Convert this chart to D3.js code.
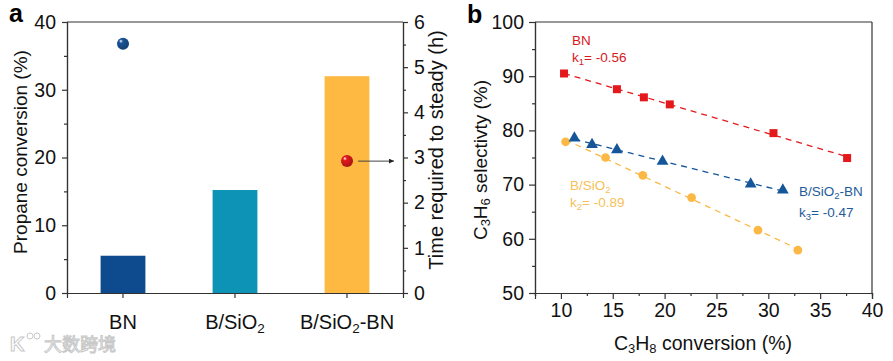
<!doctype html>
<html>
<head>
<meta charset="utf-8">
<title>Propane conversion and C3H6 selectivity</title>
<script src="https://d3js.org/d3.v7.min.js"></script>
<style>
  body { margin: 0; background: #fff; }
  svg { font-family: "Liberation Sans", Arial, sans-serif; }
</style>
</head>
<body>
<svg width="893" height="361"></svg>
<script>
// ---- panel a data ----
var catalysts = ["BN", "B/SiO2", "B/SiO2-BN"];
var conversion = [5.5, 15.2, 32.0];           // bars, left axis (%)
var barColors = ["#0d4b8e", "#0c93b5", "#fdb941"];
var steadyCats = ["BN", "B/SiO2-BN"];
var steadyTime = [5.52, 2.92];                 // spheres, right axis (h)
var sphereColors = ["#1a5599", "#e3191c"];
var leftTicks = [0, 10, 20, 30, 40];
var rightTicks = [0, 1, 2, 3, 4, 5, 6];

// ---- panel b data ----
var bnX = [10.3, 15.4, 18.0, 20.5, 30.5, 37.6];
var bnY = [90.5, 87.6, 86.1, 84.8, 79.5, 74.9];
var bsX = [10.45, 14.3, 17.9, 22.6, 29.0, 32.85];
var bsY = [77.9, 75.0, 71.7, 67.6, 61.6, 57.9];
var bsbnX = [11.3, 13.0, 15.4, 19.8, 28.3, 31.4];
var bsbnY = [78.6, 77.4, 76.4, 74.3, 70.1, 69.0];
var xTicksB = [10, 15, 20, 25, 30, 35, 40];
var yTicksB = [50, 60, 70, 80, 90, 100];

var red = "#e3191c", blue = "#15569a", orange = "#fbb845";
var axisCol = "#333";

var svg = d3.select("svg");
var defs = svg.append("defs");
sphereColors.forEach(function(c, i) {
  var g = defs.append("radialGradient").attr("id", "sph" + i)
    .attr("cx", "0.38").attr("cy", "0.35").attr("r", "0.65").attr("fx", "0.32").attr("fy", "0.28");
  g.append("stop").attr("offset", "0").attr("stop-color", "#fff");
  g.append("stop").attr("offset", "0.25").attr("stop-color", c);
  g.append("stop").attr("offset", "1").attr("stop-color", d3.color(c).darker(0.8));
});
defs.append("marker").attr("id", "arrow").attr("viewBox", "0 0 10 10")
  .attr("refX", 10).attr("refY", 5).attr("markerWidth", 7).attr("markerHeight", 5)
  .attr("markerUnits", "userSpaceOnUse").attr("orient", "auto")
  .append("path").attr("d", "M0,0L10,5L0,10Z").attr("fill", "#222");

// helper: text with subscripts, parts = [[text, isSub], ...]
function richText(sel, parts, subSize) {
  parts.forEach(function(p) {
    var t = sel.append("tspan").text(p[0]);
    if (p[1]) t.attr("font-size", subSize).attr("baseline-shift", "-25%");
  });
  return sel;
}

function styleAxis(g) {
  g.selectAll(".domain").attr("stroke", axisCol).attr("stroke-width", 1.2);
  g.selectAll(".tick line").attr("stroke", axisCol).attr("stroke-width", 1.2);
  g.selectAll(".tick text").attr("fill", "#111").attr("font-size", 19.5)
    .attr("font-family", "Liberation Sans, Arial, sans-serif");
}

// ================= panel a =================
var ax0 = 67, ax1 = 403, ay0 = 22, ay1 = 293;
var xa = d3.scaleBand().domain(catalysts).range([ax0, ax1]).paddingInner(0.6).paddingOuter(0.3);
var ya = d3.scaleLinear().domain([0, 40]).range([ay1, ay0]);
var ya2 = d3.scaleLinear().domain([0, 6]).range([ay1, ay0]);

// bars
svg.append("g").selectAll("rect").data(catalysts).enter().append("rect")
  .attr("x", function(d) { return xa(d); })
  .attr("width", xa.bandwidth())
  .attr("y", function(d, i) { return ya(conversion[i]); })
  .attr("height", function(d, i) { return ya(0) - ya(conversion[i]); })
  .attr("fill", function(d, i) { return barColors[i]; });

// minor ticks
svg.append("g").attr("transform", "translate(" + ax0 + ",0)")
  .call(d3.axisLeft(ya).tickValues(d3.range(5, 40, 10)).tickSize(3).tickFormat(""))
  .call(styleAxis);
svg.append("g").attr("transform", "translate(" + ax1 + ",0)")
  .call(d3.axisRight(ya2).tickValues(d3.range(0.5, 6, 1)).tickSize(3).tickFormat(""))
  .call(styleAxis);
// major axes
svg.append("g").attr("transform", "translate(" + ax0 + ",0)")
  .call(d3.axisLeft(ya).tickValues(leftTicks).tickSize(5).tickPadding(6))
  .call(styleAxis);
svg.append("g").attr("transform", "translate(" + ax1 + ",0)")
  .call(d3.axisRight(ya2).tickValues(rightTicks).tickSize(5).tickPadding(6).tickFormat(d3.format("d")))
  .call(styleAxis);
var xaAxis = svg.append("g").attr("transform", "translate(0," + ay1 + ")")
  .call(d3.axisBottom(xa).tickSize(5).tickPadding(12).tickFormat(""))
  .call(styleAxis);
xaAxis.selectAll(".tick").each(function(d) {
  var t = d3.select(this).append("text").attr("y", 36).attr("text-anchor", "middle")
    .attr("fill", "#111").attr("font-size", 20);
  if (d === "BN") richText(t, [["BN", 0]], 13.5);
  else if (d === "B/SiO2") richText(t, [["B/SiO", 0], ["2", 1]], 13.5);
  else richText(t, [["B/SiO", 0], ["2", 1], ["-BN", 0]], 13.5);
});
svg.append("line").attr("x1", ax0).attr("x2", ax1).attr("y1", ay0).attr("y2", ay0)
  .attr("stroke", axisCol).attr("stroke-width", 1.2);

// spheres (right axis)
svg.append("g").selectAll("circle").data(steadyCats).enter().append("circle")
  .attr("cx", function(d) { return xa(d) + xa.bandwidth() / 2; })
  .attr("cy", function(d, i) { return ya2(steadyTime[i]); })
  .attr("r", 6)
  .attr("fill", function(d, i) { return "url(#sph" + i + ")"; });

// arrow pointing to right axis
var arY = ya2(steadyTime[1]);
svg.append("line").attr("x1", xa("B/SiO2-BN") + xa.bandwidth() / 2 + 11).attr("x2", ax1 - 9)
  .attr("y1", arY).attr("y2", arY).attr("stroke", "#444").attr("stroke-width", 1)
  .attr("marker-end", "url(#arrow)");

// titles
svg.append("text").attr("transform", "translate(27,152) rotate(-90)").attr("text-anchor", "middle")
  .attr("font-size", 19).attr("fill", "#111").text("Propane conversion (%)");
svg.append("text").attr("transform", "translate(443,150) rotate(-90)").attr("text-anchor", "middle")
  .attr("font-size", 20).attr("fill", "#111").text("Time required to steady (h)");
svg.append("text").attr("x", 9).attr("y", 22).attr("font-size", 25).attr("font-weight", "bold")
  .attr("fill", "#000").text("a");

// ================= panel b =================
var bx0 = 535, bx1 = 872, by0 = 22, by1 = 293;
var xb = d3.scaleLinear().domain([7.5, 40]).range([bx0, bx1]);
var yb = d3.scaleLinear().domain([50, 100]).range([by1, by0]);

svg.append("g").attr("transform", "translate(" + bx0 + ",0)")
  .call(d3.axisLeft(yb).tickValues(d3.range(55, 100, 10)).tickSize(3).tickFormat(""))
  .call(styleAxis);
svg.append("g").attr("transform", "translate(0," + by1 + ")")
  .call(d3.axisBottom(xb).tickValues(d3.range(7.5, 40, 5)).tickSize(3).tickFormat(""))
  .call(styleAxis);
svg.append("g").attr("transform", "translate(" + bx0 + ",0)")
  .call(d3.axisLeft(yb).tickValues(yTicksB).tickSize(6).tickPadding(5))
  .call(styleAxis);
svg.append("g").attr("transform", "translate(0," + by1 + ")")
  .call(d3.axisBottom(xb).tickValues(xTicksB).tickSize(6).tickPadding(4))
  .call(styleAxis);
svg.append("line").attr("x1", bx0).attr("x2", bx1).attr("y1", by0).attr("y2", by0)
  .attr("stroke", axisCol).attr("stroke-width", 1.2);
svg.append("line").attr("x1", bx1).attr("x2", bx1).attr("y1", by0).attr("y2", by1)
  .attr("stroke", axisCol).attr("stroke-width", 1.2);

// least-squares fit line between first and last x
function fitLine(xs, ys, color) {
  var mx = d3.mean(xs), my = d3.mean(ys);
  var sxy = d3.sum(xs, function(x, i) { return (x - mx) * (ys[i] - my); });
  var sxx = d3.sum(xs, function(x) { return (x - mx) * (x - mx); });
  var k = sxy / sxx, b = my - k * mx;
  var x1 = d3.min(xs), x2 = d3.max(xs);
  svg.append("line").attr("x1", xb(x1)).attr("y1", yb(k * x1 + b))
    .attr("x2", xb(x2)).attr("y2", yb(k * x2 + b))
    .attr("stroke", color).attr("stroke-width", 1.3).attr("stroke-dasharray", "6,5");
}
fitLine(bnX, bnY, red);
fitLine(bsX, bsY, orange);
fitLine(bsbnX, bsbnY, blue);

function drawPoints(xs, ys, type, color, size) {
  svg.append("g").selectAll("path").data(xs).enter().append("path")
    .attr("transform", function(d, i) { return "translate(" + xb(d) + "," + yb(ys[i]) + ")"; })
    .attr("d", d3.symbol().type(type).size(size))
    .attr("fill", color);
}
drawPoints(bnX, bnY, d3.symbolSquare, red, 64);
drawPoints(bsX, bsY, d3.symbolCircle, orange, 60);
drawPoints(bsbnX, bsbnY, d3.symbolTriangle, blue, 60);

// series labels
function label(x, y, parts, color) {
  var t = svg.append("text").attr("x", x).attr("y", y).attr("font-size", 13.5).attr("fill", color);
  richText(t, parts, 9.5);
}
label(572, 45, [["BN", 0]], "#d7191c");
label(572, 62, [["k", 0], ["1", 1], ["= -0.56", 0]], "#d7191c");
label(570, 190, [["B/SiO", 0], ["2", 1]], "#f7bf5a");
label(570, 207, [["k", 0], ["2", 1], ["= -0.89", 0]], "#f7bf5a");
label(799, 196, [["B/SiO", 0], ["2", 1], ["-BN", 0]], "#1f5b99");
label(799, 217, [["k", 0], ["3", 1], ["= -0.47", 0]], "#1f5b99");

// titles
var yt = svg.append("text").attr("transform", "translate(487,160) rotate(-90)").attr("text-anchor", "middle")
  .attr("font-size", 19).attr("fill", "#111");
richText(yt, [["C", 0], ["3", 1], ["H", 0], ["6", 1], [" selectivty (%)", 0]], 13);
var xt = svg.append("text").attr("x", 703).attr("y", 350).attr("text-anchor", "middle")
  .attr("font-size", 19.5).attr("fill", "#111");
richText(xt, [["C", 0], ["3", 1], ["H", 0], ["8", 1], [" conversion (%)", 0]], 13);
svg.append("text").attr("x", 467).attr("y", 23).attr("font-size", 25).attr("font-weight", "bold")
  .attr("fill", "#000").text("b");

// watermark
var wm = svg.append("g").attr("fill", "#fff").attr("stroke", "#c8c8c8").attr("stroke-width", 1);
wm.append("text").attr("x", 10).attr("y", 351).attr("font-size", 20).attr("font-weight", "bold").text("K");
wm.append("circle").attr("cx", 30).attr("cy", 336).attr("r", 3);
wm.append("circle").attr("cx", 37).attr("cy", 336).attr("r", 3);
wm.append("text").attr("x", 44).attr("y", 351).attr("font-size", 18)
  .attr("font-family", "Noto Sans CJK SC").text("大数跨境");
</script>
</body>
</html>
